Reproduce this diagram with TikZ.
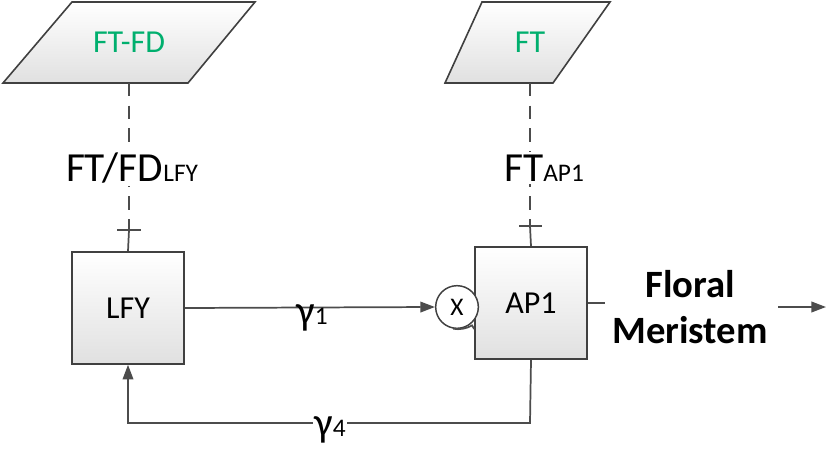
\documentclass[tikz,border=0pt]{standalone}
\usepackage{fontspec}
\setmainfont{Carlito}
\usetikzlibrary{arrows.meta}
\definecolor{tgreen}{RGB}{0,175,110}
\begin{document}
\begin{tikzpicture}[x=0.75pt,y=-0.75pt,
  box/.style={draw=black!75,line width=1.2pt,top color=white,bottom color=black!12},
  ln/.style={draw=black!70,line width=1.3pt},
  dsh/.style={ln,dash pattern=on 10pt off 7pt},
  arr/.style={ln,-{Triangle[length=11pt,width=8pt]}},
  blab/.style={font=\fontsize{24}{24}\selectfont}]
\useasboundingbox (0,0) rectangle (827,449);
% parallelograms
\path[box] (72,2) -- (255,2) -- (188,83) -- (3,83) -- cycle;
\node[text=tgreen,blab] (ftfd) at (129,42) {FT-FD};
\path[box] (482,2) -- (610,2) -- (553,83) -- (445,83) -- cycle;
\node[text=tgreen,blab] (ft) at (530,42) {FT};
% boxes
\node[box,minimum size=84pt,inner sep=0pt,blab] (lfy) at (128,308) {LFY};
\node[box,minimum size=84pt,inner sep=0pt,blab] (ap1) at (531,303) {AP1};
\node[draw=black!75,line width=1.1pt,circle,minimum size=32pt,inner sep=0pt,font=\fontsize{19}{19}\selectfont,fill=white] (x) at (457,307) {X};
% dashed inhibitions
\coordinate (t1) at (129,230);
\coordinate (t2) at (530,226);
\draw[dsh] (129,83) -- (t1);
\draw[ln] (t1) -- (lfy.north);
\draw[ln] (117,230) -- (141,230);
\draw[dsh] (530,83) -- (t2);
\draw[ln] (t2) -- (ap1.north);
\draw[ln] (519,226) -- (542,226);
\node[fill=white,inner sep=2pt] (l1) at (132,168) {\fontsize{31}{31}\selectfont FT/FD\fontsize{19}{19}\selectfont LFY};
\node[fill=white,inner sep=2pt] (l2) at (544,168) {\fontsize{31}{31}\selectfont FT\fontsize{19}{19}\selectfont AP1};
% connectors
\draw[arr] (lfy.east) -- (x.west);
\node (g1) at (312,318) {\fontsize{31}{31}\selectfont γ\fontsize{19}{19}\selectfont 1};
\draw[ln] (x.-100) arc (-100:-60:21pt) -- (ap1.west |- 0,329);
\draw[ln] (ap1.east) -- ++(17,0);
\coordinate (c1) at (530,423);
\coordinate (c2) at (128,423);
\draw[arr] (ap1.south) -- (c1) -- (c2) -- (lfy.south);
\node[fill=white,inner sep=1pt] (g4) at (330,430) {\fontsize{31}{31}\selectfont γ\fontsize{19}{19}\selectfont 4};
\node[align=center,font=\bfseries\fontsize{29}{34}\selectfont] (fm) at (690,307) {Floral\\Meristem};
\coordinate (o1) at (778,307);
\coordinate (o2) at (826,307);
\draw[arr] (o1) -- (o2);
\end{tikzpicture}
\end{document}
